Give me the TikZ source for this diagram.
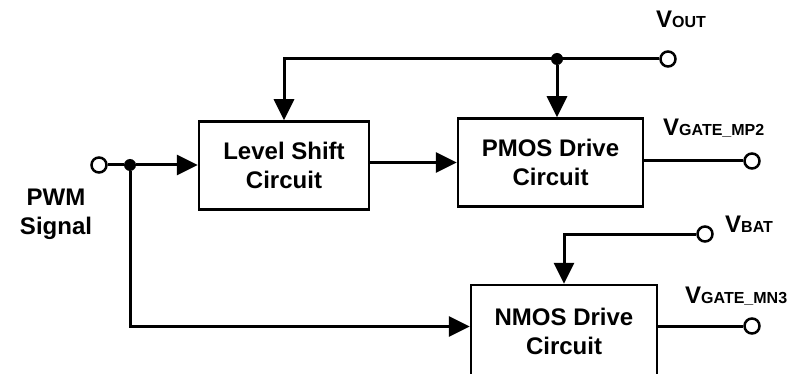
\documentclass[tikz,border=0pt]{standalone}
\usepackage{fontspec}
\setmainfont{Liberation Sans}
\usetikzlibrary{positioning,arrows.meta}
\tikzset{
  drive box/.style={
    draw,
    line width=2.5pt,
    minimum width={#1pt},
    minimum height={88pt},
    inner sep=0pt,
    align=center,
    font=\bfseries\fontsize{24}{29}\selectfont,
  },
  terminal/.style={
    circle, draw, fill=white,
    line width=2.5pt,
    minimum size=15pt,
    inner sep=0pt,
  },
  junction/.style={
    circle, fill,
    minimum size=12pt,
    inner sep=0pt,
  },
  wire/.style={
    line width=3pt,
  },
  feed/.style={
    wire,
    -{Triangle[length=21pt,width=20pt]},
  },
  pin label/.style={
    anchor=base west,
    inner sep=0pt,
    font=\bfseries\fontsize{24}{29}\selectfont,
  }
}
\newcommand{\pinname}[1]{V{\fontsize{16}{16}\selectfont #1}}

\begin{document}
\begin{tikzpicture}[x=1pt, y=-1pt]
        \clip (0,0) rectangle (792,374);

        \node [drive box=170] (shift) at (284,165.5) {Level Shift\\Circuit};
        \node [drive box=185] (pmos) at (550.5,162.5) {PMOS Drive\\Circuit};
        \node [drive box=186, minimum height=92pt] (nmos) at (564,331) {NMOS Drive\\Circuit};

        \node [terminal] (pwm) at (99,165) {};
        \node [terminal] (vout) at (668,59) {};
        \node [terminal] (mp2) at (752,161) {};
        \node [terminal] (vbat) at (705,234) {};
        \node [terminal] (mn3) at (752,326) {};

        \node [junction] (jpwm) at (130,165) {};
        \node [junction] (jout) at (557,59) {};

        \draw [wire] (pwm) -- (jpwm);
        \draw [feed] (jpwm) -- (jpwm -| shift.west);
        \draw [feed] (jpwm) |- ([yshift=4.5pt]nmos.west);
        \draw [feed] (pmos.west -| shift.east) -- (pmos.west);
        \draw [feed] (vout) -| (shift.north);
        \draw [feed] (jout) -- (jout |- pmos.north);
        \draw [wire] (mp2 -| pmos.east) -- (mp2);
        \draw [wire] (mn3 -| nmos.east) -- (mn3);
        \draw [feed] (vbat) -| (nmos.north);

        \node [pin label] (vout label) at (656,28) {\pinname{OUT}};
        \node [pin label] (mp2 label) at (663,136) {\pinname{GATE\_MP2}};
        \node [pin label] (vbat label) at (725,233) {\pinname{BAT}};
        \node [pin label] (mn3 label) at (685,303) {\pinname{GATE\_MN3}};
        \node [pin label, anchor=center, align=center] (pwm label) at (56,214) {PWM\\Signal};
      \end{tikzpicture}
\end{document}
